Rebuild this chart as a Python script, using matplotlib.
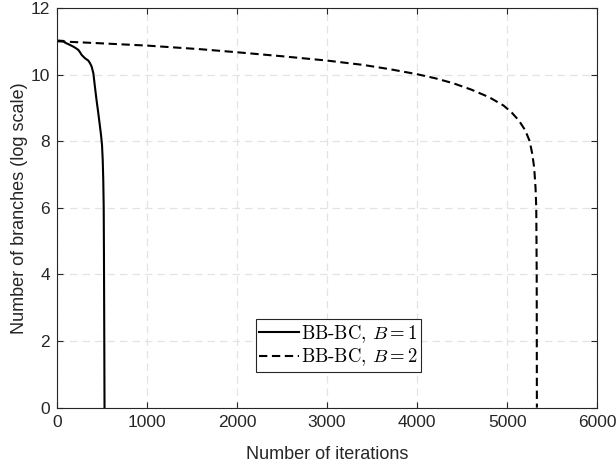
import matplotlib
matplotlib.use('Agg')
import matplotlib.pyplot as plt
from matplotlib.font_manager import FontProperties

# B = 1 run
iter_b1 = [0, 15, 70, 89, 144, 181, 211, 237, 256, 274, 311, 348, 367, 385, 404,
           422, 440, 456, 472, 489, 500, 508, 514, 519, 522, 525, 528]
branches_b1 = [11.02, 11.02, 11.01, 10.96, 10.89, 10.84, 10.79, 10.74, 10.67, 10.59,
               10.49, 10.42, 10.34, 10.24, 10.04, 9.62, 9.22, 8.9, 8.56, 8.19,
               7.89, 7.44, 6.84, 6.0, 4.44, 2.34, 0.0]

# B = 2 run
iter_b2 = [0, 400, 1000, 1600, 2000, 2500, 3000, 3400, 3700, 4000, 4200, 4400,
           4600, 4800, 4960, 5050, 5130, 5200, 5250, 5280, 5300, 5315, 5323,
           5328, 5330]
branches_b2 = [11.0, 10.95, 10.87, 10.76, 10.67, 10.55, 10.42, 10.29, 10.16, 10.01,
               9.89, 9.74, 9.55, 9.32, 9.07, 8.86, 8.62, 8.33, 8.0, 7.6, 7.2, 6.6,
               6.0, 4.0, 0.0]

labels = [r'BB-BC, $B = 1$', r'BB-BC, $B = 2$']

plt.rcParams['font.family'] = ['Liberation Sans', 'DejaVu Sans']
plt.rcParams['mathtext.fontset'] = 'cm'

fig = plt.figure(figsize=(6.16, 4.68), dpi=100)
ax = fig.add_axes([0.0925, 0.129, 0.877, 0.854])

ax.plot(iter_b1, branches_b1, color='black', lw=1.5, label=labels[0])
ax.plot(iter_b2, branches_b2, color='black', lw=1.5, linestyle=(0, (4, 2.2)),
        label=labels[1])

ax.set_xlim(0, 6000)
ax.set_ylim(0, 12)
ax.set_xticks(range(0, 6001, 1000))
ax.set_yticks(range(0, 13, 2))
ax.grid(True, color='#e3e3e3', linestyle=(0, (6, 4)), linewidth=0.9)
ax.set_axisbelow(True)

ax.tick_params(direction='in', top=True, right=True, labelsize=12.5,
               length=4, pad=5, color='#262626', labelcolor='#262626')
for sp in ax.spines.values():
    sp.set_color('#262626')
    sp.set_linewidth(0.8)

ax.set_xlabel('Number of iterations', fontsize=13, color='#262626', labelpad=12)
ax.set_ylabel('Number of branches (log scale)', fontsize=13, color='#262626',
              labelpad=2)

leg = ax.legend(loc='center', bbox_to_anchor=(0.521, 0.155), fancybox=False,
                edgecolor='#262626', framealpha=1,
                prop=FontProperties(family='cmr10', size=13.5),
                handlelength=2.1, handletextpad=0.1, borderpad=0.2,
                labelspacing=0.1, borderaxespad=0)
leg.get_frame().set_linewidth(0.8)

fig.savefig('out.png', dpi=100)
